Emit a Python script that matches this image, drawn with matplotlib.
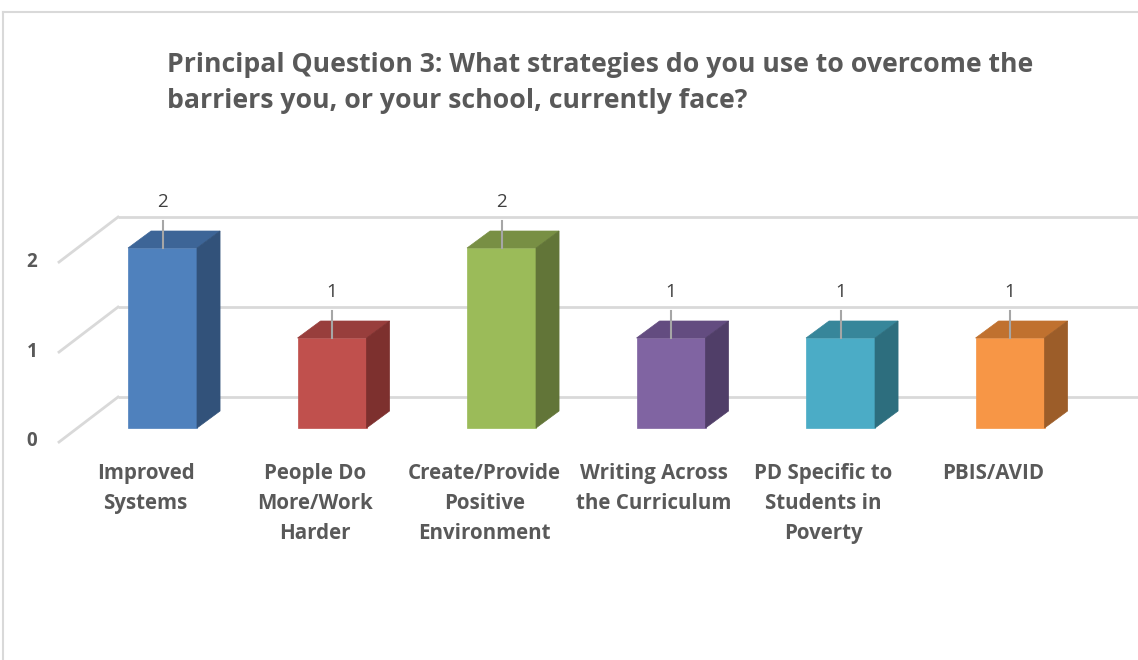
import matplotlib.pyplot as plt
from matplotlib.patches import Polygon
from matplotlib.lines import Line2D

# Survey responses
categories = ['Improved\nSystems', 'People Do\nMore/Work\nHarder', 'Create/Provide\nPositive\nEnvironment',
              'Writing Across\nthe Curriculum', 'PD Specific to\nStudents in\nPoverty', 'PBIS/AVID']
counts = [2, 1, 2, 1, 1, 1]
front_colors = ['#4F81BD', '#C0504D', '#9BBB59', '#8064A2', '#4BACC6', '#F79646']
top_colors = ['#3D6597', '#983E3C', '#788F44', '#634C80', '#37869A', '#C0712F']
side_colors = ['#32527A', '#7D302E', '#627538', '#503E68', '#2D6E7E', '#9C5D29']
yticks = [0, 1, 2]

title = ('Principal Question 3: What strategies do you use to overcome the\n'
         'barriers you, or your school, currently face?')

plt.rcParams['font.family'] = ['Open Sans', 'DejaVu Sans']

fig = plt.figure(figsize=(11.38, 6.6), dpi=100)
ax = fig.add_axes([0, 0, 1, 1])
ax.set_xlim(-0.9587, 5.755)
ax.set_ylim(-2.578, 4.756)
ax.axis('off')

bar_w = 0.407
dx, dy = 0.136, 0.189          # bar depth offset
wall_dy = 0.344                # back wall rise
side_dx, side_dy = -0.348, -0.5  # left wall diagonal
wall_x = -0.2625
grid_col = '#D9D9D9'

# gridlines on the back wall and left wall
for v in yticks:
    ax.plot([wall_x, 5.9], [v + wall_dy, v + wall_dy], color=grid_col, lw=2, zorder=1,
            solid_capstyle='butt')
    ax.plot([wall_x, wall_x + side_dx], [v + wall_dy, v + wall_dy + side_dy],
            color=grid_col, lw=2, zorder=1)
    ax.text(-0.77, v - 0.15, str(v), ha='center', va='center', fontsize=13.5,
            fontweight='bold', color='#595959')

# 3D columns: front face, top face, right side face
for i, (c, fc, tc, sc) in enumerate(zip(counts, front_colors, top_colors, side_colors)):
    x0, x1 = i - bar_w / 2, i + bar_w / 2
    ax.bar(i, c, width=bar_w, color=fc, zorder=3, edgecolor=fc, linewidth=0.5)
    ax.add_patch(Polygon([(x0, c), (x1, c), (x1 + dx, c + dy), (x0 + dx, c + dy)],
                         closed=True, facecolor=tc, edgecolor=tc, lw=0.5, zorder=3))
    ax.add_patch(Polygon([(x1, 0), (x1 + dx, dy), (x1 + dx, c + dy), (x1, c)],
                         closed=True, facecolor=sc, edgecolor=sc, lw=0.5, zorder=3))
    # value label with leader line
    ax.plot([i, i], [c, c + 0.3], color='#A6A6A6', lw=1.5, zorder=4)
    ax.text(i, c + 0.51, str(c), ha='center', va='center', fontsize=13.5, color='#404040',
            zorder=5)
    ax.text(i - 0.1, -0.39, categories[i], ha='center', va='top', fontsize=14.8,
            fontweight='bold', color='#595959', linespacing=1.55)

fig.text(167 / 1138, 1 - 52 / 660, title, ha='left', va='top', fontsize=19.2,
         fontweight='bold', color='#595959', linespacing=1.5)

# chart area border
fig.add_artist(Line2D([3 / 1138, 3 / 1138], [0, 1 - 12 / 660], color='#D9D9D9', lw=1.5))
fig.add_artist(Line2D([3 / 1138, 1], [1 - 12 / 660, 1 - 12 / 660], color='#D9D9D9', lw=1.5))

fig.savefig('out.png', dpi=100, facecolor='white')
